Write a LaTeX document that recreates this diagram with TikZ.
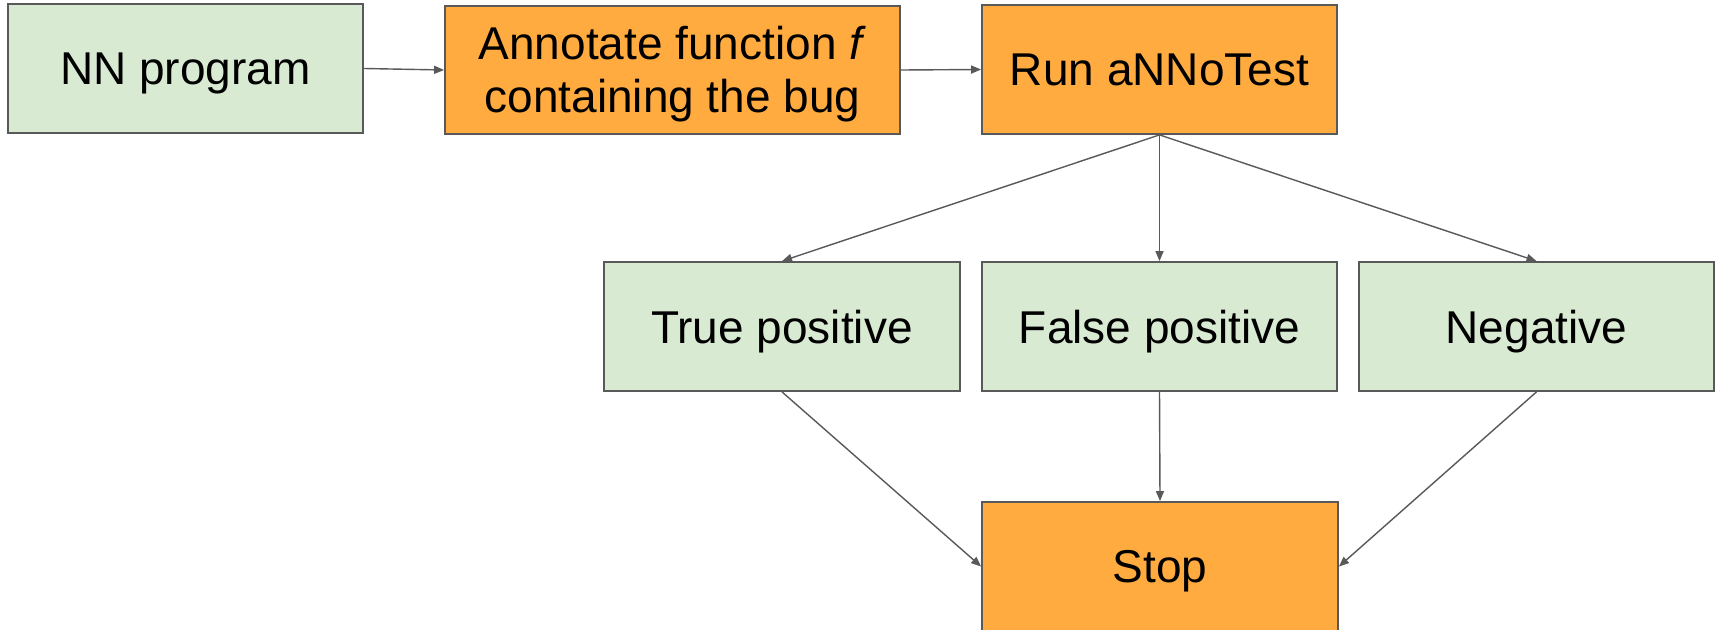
\documentclass[tikz,border=0pt]{standalone}
\usepackage{fontspec}
\setmainfont{Liberation Sans}
\usetikzlibrary{arrows.meta}
\definecolor{boxgreen}{HTML}{D9EAD3}
\definecolor{boxorange}{HTML}{FFAB40}
\definecolor{edgegray}{HTML}{595959}
\begin{document}
\begin{tikzpicture}[x=1pt,y=-1pt,
  box/.style={draw=edgegray, line width=1.8pt, minimum width=355pt, minimum height=129pt,
    inner sep=0pt, align=center, text depth=0pt, font=\fontsize{46}{53}\selectfont},
  greenbox/.style={box, fill=boxgreen},
  orangebox/.style={box, fill=boxorange},
  conn/.style={draw=edgegray, line width=1.4pt, -{Triangle[length=10pt,width=8pt]}}
]
\useasboundingbox (0,0) rectangle (1720,629);
\fill[white] (0,0) rectangle (1720,629);

\node[greenbox] (nn) at (185.5,68.5) {NN program};
\node[orangebox, minimum width=455pt, minimum height=128pt, text depth=2pt] (ann) at (672.5,70)
  {Annotate function \textit{f}\\containing the bug};
\node[orangebox] (run) at (1159.5,69.5) {Run aNNoTest};

\node[greenbox, minimum width=356pt] (tp) at (782,326.5) {True positive};
\node[greenbox] (fp) at (1159.5,326.5) {False positive};
\node[greenbox] (neg) at (1536.5,326.5) {Negative};

\node[orangebox, minimum width=356pt] (stop) at (1160,566.5) {Stop};

\draw[conn] (nn.east) -- (ann.west);
\draw[conn] (ann.east) -- (run.west);
\draw[conn] (run.south) -- (tp.north);
\draw[conn] (run.south) -- (fp.north);
\draw[conn] (run.south) -- (neg.north);
\draw[conn] (tp.south) -- (stop.west);
\draw[conn] (fp.south) -- (stop.north);
\draw[conn] (neg.south) -- (stop.east);
\end{tikzpicture}
\end{document}
